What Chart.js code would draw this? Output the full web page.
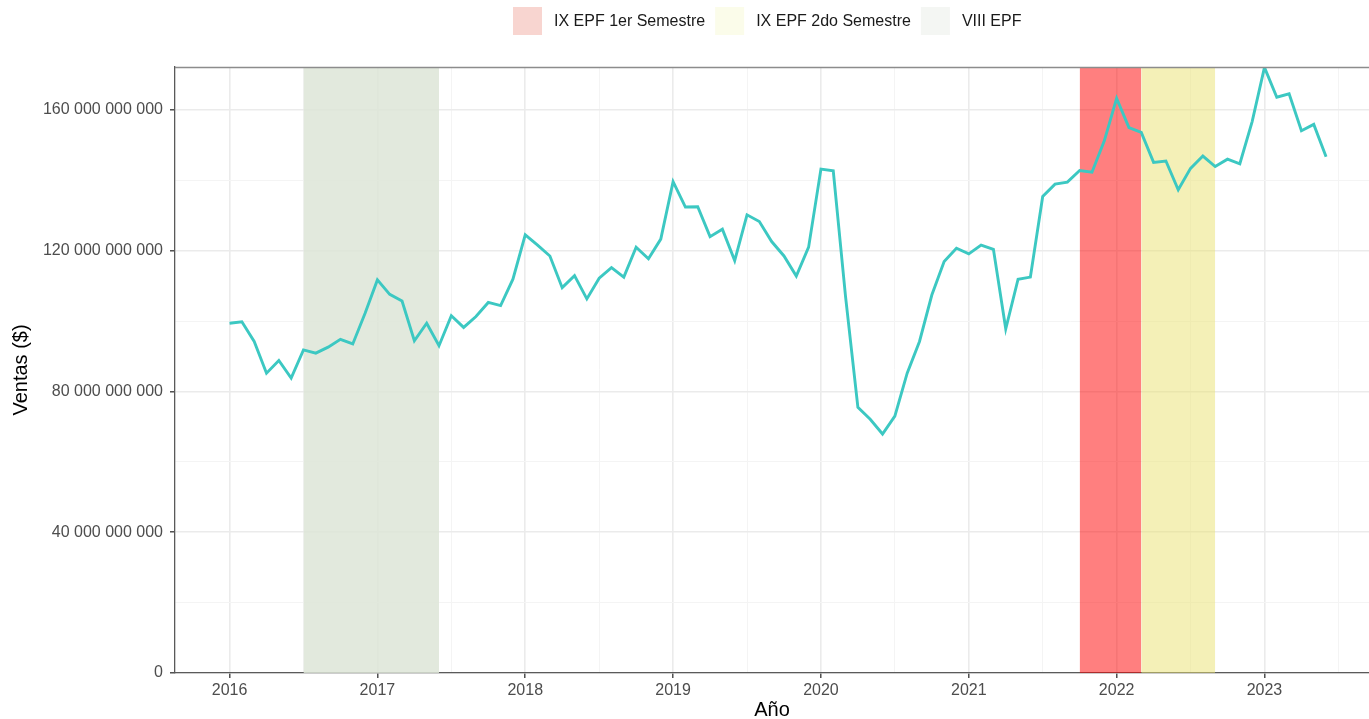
<!DOCTYPE html>
<html>
<head>
<meta charset="utf-8">
<script src="https://cdn.jsdelivr.net/npm/chart.js@4/dist/chart.umd.min.js"></script>
<style>
  html, body { margin: 0; padding: 0; background: #ffffff; }
  #wrap { width: 1369px; height: 719px; position: relative; }
</style>
</head>
<body>
<div id="wrap"><canvas id="c" width="1369" height="719"></canvas></div>
<script>
// ---- Data ----
const fechas = [
  '2016-01','2016-02','2016-03','2016-04','2016-05','2016-06','2016-07','2016-08','2016-09','2016-10','2016-11','2016-12',
  '2017-01','2017-02','2017-03','2017-04','2017-05','2017-06','2017-07','2017-08','2017-09','2017-10','2017-11','2017-12',
  '2018-01','2018-02','2018-03','2018-04','2018-05','2018-06','2018-07','2018-08','2018-09','2018-10','2018-11','2018-12',
  '2019-01','2019-02','2019-03','2019-04','2019-05','2019-06','2019-07','2019-08','2019-09','2019-10','2019-11','2019-12',
  '2020-01','2020-02','2020-03','2020-04','2020-05','2020-06','2020-07','2020-08','2020-09','2020-10','2020-11','2020-12',
  '2021-01','2021-02','2021-03','2021-04','2021-05','2021-06','2021-07','2021-08','2021-09','2021-10','2021-11','2021-12',
  '2022-01','2022-02','2022-03','2022-04','2022-05','2022-06','2022-07','2022-08','2022-09','2022-10','2022-11','2022-12',
  '2023-01','2023-02','2023-03','2023-04','2023-05','2023-06'
];
// Ventas en miles de millones de $
const ventasMM = [
  99.4, 99.8, 94.2, 85.2, 88.8, 83.8, 91.8, 90.9, 92.6, 94.8, 93.5, 102.2,
  111.7, 107.6, 105.7, 94.4, 99.4, 93.0, 101.5, 98.2, 101.3, 105.3, 104.4, 111.9,
  124.5, 121.6, 118.5, 109.5, 112.9, 106.3, 112.2, 115.2, 112.5, 121.0, 117.7, 123.3,
  139.6, 132.4, 132.5, 124.0, 126.1, 117.2, 130.2, 128.3, 122.6, 118.5, 112.8, 121.0,
  143.2, 142.7, 106.9, 75.5, 72.1, 67.9, 73.0, 85.2, 94.2, 107.4, 116.9, 120.7,
  119.1, 121.6, 120.4, 97.8, 111.9, 112.5, 135.4, 138.9, 139.5, 142.8, 142.3, 151.2,
  163.3, 155.0, 153.6, 145.1, 145.5, 137.3, 143.4, 146.9, 143.9, 146.0, 144.7, 156.7,
  172.1, 163.6, 164.6, 154.1, 155.9, 146.7
];
// Periodos sombreados (inicio, fin)
const periodos = ['IX EPF 1er Semestre', 'IX EPF 2do Semestre', 'VIII EPF'];
const periodoInicio = ['2021-10', '2022-03', '2016-07'];
const periodoFin = ['2022-03', '2022-09', '2017-06'];
const periodoColor = ['rgba(255,0,0,0.5)', 'rgba(233,225,112,0.5)', 'rgba(221,229,215,0.85)'];
const leyendaColor = ['#F8D5D0', '#FBFCEA', '#F4F6F3'];

// Ticks
const xTicksMayor = [2016, 2017, 2018, 2019, 2020, 2021, 2022, 2023];
const xTicksMenor = [2015.5, 2016.5, 2017.5, 2018.5, 2019.5, 2020.5, 2021.5, 2022.5, 2023.5];
const yTicksMayor = [0, 40e9, 80e9, 120e9, 160e9];
const yTicksMenor = [20e9, 60e9, 100e9, 140e9];

const xMin = 2015.631, xMax = 2023.707;
const yMin = 0, yMax = 172.2e9;

// ---- Build ----
function fechaNum(s) { const [y, m] = s.split('-').map(Number); return y + (m - 1) / 12; }
const serie = fechas.map((f, i) => ({ x: fechaNum(f), y: ventasMM[i] * 1e9 }));
function fmt(v) { return String(Math.round(v)).replace(/\B(?=(\d{3})+(?!\d))/g, ' '); }

const bandDatasets = periodos.map((p, i) => ({
  type: 'line',
  label: p,
  data: [{ x: fechaNum(periodoInicio[i]), y: yMax }, { x: fechaNum(periodoFin[i]), y: yMax }],
  borderWidth: 0,
  borderColor: 'rgba(0,0,0,0)',
  backgroundColor: periodoColor[i],
  fill: 'origin',
  pointRadius: 0,
  tension: 0
}));

const FONT = "'Liberation Sans', Arial, sans-serif";

const panelBorder = {
  id: 'panelBorder',
  afterDatasetsDraw(chart) {
    const { ctx, chartArea: a } = chart;
    ctx.save();
    ctx.strokeStyle = '#8c8c8c';
    ctx.lineWidth = 1.5;
    ctx.beginPath();
    ctx.moveTo(a.left, a.top + 0.5);
    ctx.lineTo(a.right, a.top + 0.5);
    ctx.stroke();
    ctx.restore();
  }
};

const customLegend = {
  id: 'customLegend',
  afterDraw(chart) {
    const ctx = chart.ctx;
    ctx.save();
    ctx.font = '16px ' + FONT;
    ctx.textBaseline = 'middle';
    ctx.textAlign = 'left';
    let x = 513;
    const y = 7, h = 28, w = 29;
    periodos.forEach((p, i) => {
      ctx.fillStyle = leyendaColor[i];
      ctx.fillRect(x, y, w, h);
      x += w + 12;
      ctx.fillStyle = '#1a1a1a';
      ctx.fillText(p, x, y + h / 2 + 1);
      x += ctx.measureText(p).width + 10;
    });
    ctx.restore();
  }
};

new Chart(document.getElementById('c'), {
  type: 'line',
  data: {
    datasets: [
      {
        label: 'Ventas',
        data: serie,
        borderColor: '#3CC8C2',
        borderWidth: 2.9,
        pointRadius: 0,
        fill: false,
        tension: 0
      },
      ...bandDatasets
    ]
  },
  options: {
    responsive: false,
    devicePixelRatio: 1,
    animation: false,
    layout: { padding: { top: 67, left: 0, right: 0, bottom: 0 } },
    plugins: { legend: { display: false }, tooltip: { enabled: false } },
    scales: {
      x: {
        type: 'linear',
        min: xMin,
        max: xMax,
        afterFit(s) { s.height = 46; },
        afterBuildTicks(s) {
          s.ticks = [...xTicksMenor, ...xTicksMayor].filter(v => v >= xMin && v <= xMax).sort((a, b) => a - b).map(v => ({ value: v }));
        },
        ticks: {
          autoSkip: false,
          maxRotation: 0,
          padding: 3,
          color: '#4D4D4D',
          font: { family: FONT, size: 16 },
          callback: (v) => xTicksMayor.includes(v) ? String(v) : ''
        },
        grid: {
          color: (c) => xTicksMayor.includes(c.tick && c.tick.value) ? '#EBEBEB' : '#F4F4F4',
          lineWidth: (c) => xTicksMayor.includes(c.tick && c.tick.value) ? 1.6 : 1,
          tickColor: (c) => xTicksMayor.includes(c.tick && c.tick.value) ? '#333333' : 'rgba(0,0,0,0)',
          tickLength: 5,
          tickWidth: 1.3
        },
        border: { color: '#5a5a5a', width: 1.3 },
        title: {
          display: true,
          text: 'Año',
          color: '#000000',
          font: { family: FONT, size: 20 },
          padding: { top: 0, bottom: -3 }
        }
      },
      y: {
        type: 'linear',
        min: yMin,
        max: yMax,
        afterFit(s) { s.width = 175; },
        afterBuildTicks(s) {
          s.ticks = [...yTicksMayor, ...yTicksMenor].sort((a, b) => a - b).map(v => ({ value: v }));
        },
        ticks: {
          autoSkip: false,
          padding: 7,
          color: '#4D4D4D',
          font: { family: FONT, size: 16 },
          callback: (v) => yTicksMayor.includes(v) ? fmt(v) : ''
        },
        grid: {
          color: (c) => yTicksMayor.includes(c.tick && c.tick.value) ? '#EBEBEB' : '#F4F4F4',
          lineWidth: (c) => yTicksMayor.includes(c.tick && c.tick.value) ? 1.6 : 1,
          tickColor: (c) => yTicksMayor.includes(c.tick && c.tick.value) ? '#333333' : 'rgba(0,0,0,0)',
          tickLength: 5,
          tickWidth: 1.3
        },
        border: { color: '#5a5a5a', width: 1.3 },
        title: {
          display: true,
          text: 'Ventas ($)',
          color: '#000000',
          font: { family: FONT, size: 20 },
          padding: { top: 9, bottom: 0 }
        }
      }
    }
  },
  plugins: [panelBorder, customLegend]
});
</script>
</body>
</html>
